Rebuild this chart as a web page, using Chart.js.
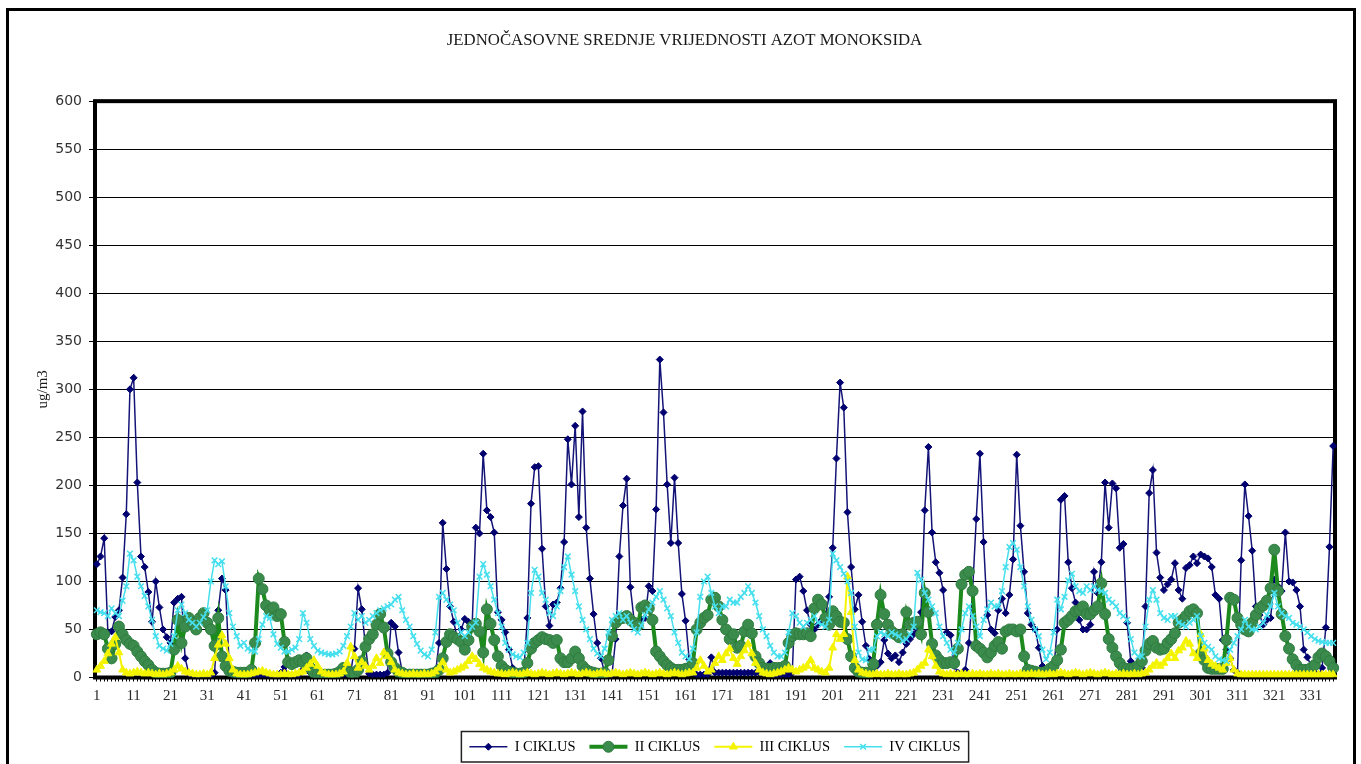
<!DOCTYPE html>
<html>
<head>
<meta charset="utf-8">
<script src="https://cdn.jsdelivr.net/npm/chart.js@4.4.1/dist/chart.umd.min.js"></script>
<style>
  html, body { margin: 0; padding: 0; background: #fff; }
  canvas { display: block; background: #fff; }
</style>
</head>
<body>
<canvas id="noChart" width="1361" height="764"></canvas>
<script>
// mjerenja po danima (1..337)
const dani = [];
for (let d = 1; d <= 337; d++) dani.push(String(d));

const ciklusI = [
  118,126,145,47,48,63,70,104,170,300,
  312,203,126,115,89,58,100,73,50,42,
  36,78,82,84,20,4,3,2,2,3,
  2,2,5,70,103,91,10,2,2,2,
  2,2,2,2,2,2,2,2,2,2,
  5,11,3,3,2,3,8,23,5,3,
  3,3,3,3,3,3,3,3,3,5,
  30,93,71,32,4,3,3,3,3,5,
  57,53,26,6,3,3,3,3,3,3,
  3,3,3,36,161,113,74,58,40,50,
  61,58,55,156,150,233,174,167,151,68,
  60,47,29,10,5,3,3,62,181,219,
  220,134,74,54,76,78,93,141,248,201,
  262,167,277,156,103,66,36,20,5,3,
  3,40,126,179,207,94,60,55,60,62,
  95,90,175,331,276,201,140,208,140,87,
  59,19,5,3,3,3,3,21,5,5,
  5,5,5,5,5,5,5,5,5,5,
  5,5,5,15,3,3,3,3,3,5,
  102,105,90,70,55,50,55,60,65,84,
  135,228,307,281,172,115,71,86,58,33,
  19,10,12,16,39,25,20,23,16,26,
  35,40,45,50,68,174,240,151,120,109,
  91,47,44,12,5,3,8,36,90,165,
  233,141,65,50,46,70,82,67,86,123,
  232,158,110,67,55,50,31,12,5,3,
  5,50,185,189,120,93,78,60,50,50,
  55,110,88,120,203,156,202,197,135,139,
  57,17,5,3,10,74,192,216,130,104,
  91,97,102,119,91,82,114,117,126,119,
  128,126,124,115,86,82,39,29,20,8,
  5,122,201,168,132,74,65,55,60,62,
  102,95,90,151,100,99,91,74,29,21,
  12,5,3,10,52,136,241
];

const ciklusII = [
  45,47,45,30,20,35,53,45,39,35,
  33,27,22,17,13,8,5,4,4,4,
  5,29,60,36,53,62,57,50,62,67,
  57,50,33,62,22,12,7,6,5,5,
  5,5,8,36,103,92,75,70,73,64,
  66,37,16,14,16,18,16,20,10,5,
  4,3,3,3,3,4,6,10,8,5,
  4,8,17,32,40,45,55,66,52,25,
  16,10,6,5,3,3,3,3,3,3,
  3,4,5,8,20,37,45,42,40,37,
  29,39,53,56,48,26,71,56,39,22,
  12,8,6,5,4,4,5,15,30,36,
  39,42,40,39,36,39,20,16,16,20,
  27,20,12,8,6,5,4,4,5,18,
  43,57,61,62,64,60,57,54,73,75,
  72,60,27,22,17,13,10,8,8,8,
  9,10,15,50,57,62,65,81,83,74,
  60,50,40,45,31,33,48,55,46,22,
  15,10,9,9,10,10,10,12,36,43,
  46,45,45,46,43,72,81,76,62,55,
  69,64,58,57,40,22,10,6,5,5,
  5,14,55,86,66,55,48,45,42,45,
  68,55,57,58,45,88,68,35,23,18,
  15,15,16,15,30,97,107,110,90,33,
  30,26,21,26,33,37,30,48,50,50,
  48,50,22,8,7,6,5,5,6,9,
  12,18,29,57,60,64,69,70,74,66,
  66,70,74,98,66,40,31,22,15,10,
  9,9,10,12,17,28,35,38,31,29,
  30,36,40,46,57,60,64,69,71,67,
  25,18,10,9,9,9,9,39,83,81,
  62,55,50,48,57,65,72,75,80,93,
  133,90,66,43,30,19,13,8,8,8,
  10,13,21,25,22,17,10
];

const ciklusIII = [
  8,12,17,25,35,42,26,8,5,4,
  5,6,5,4,5,4,3,4,3,4,
  5,8,12,9,6,5,4,3,3,4,
  3,5,20,34,44,35,20,8,4,3,
  3,3,4,5,6,7,5,4,3,3,
  3,4,3,3,4,5,6,10,14,18,
  12,6,4,3,3,3,4,6,15,32,
  22,10,16,12,8,12,20,15,26,22,
  16,8,5,4,3,3,4,3,3,4,
  3,4,6,10,16,8,5,6,8,10,
  12,17,22,19,14,10,8,6,5,4,
  4,3,4,5,4,3,4,5,4,3,
  4,5,4,3,4,5,4,3,4,5,
  4,3,4,5,4,3,4,5,4,3,
  4,5,4,3,4,5,4,3,4,5,
  4,3,4,5,4,3,4,5,4,3,
  4,5,5,10,18,12,6,8,15,22,
  18,25,30,20,14,22,28,35,25,15,
  8,5,4,3,4,5,6,8,10,8,
  6,8,10,12,18,10,8,6,5,10,
  31,45,40,45,105,68,18,8,5,4,
  3,3,4,3,3,4,3,3,4,3,
  3,4,5,8,12,15,29,22,12,6,
  4,3,4,3,3,4,3,3,4,3,
  4,3,3,4,3,4,3,3,4,3,
  3,4,3,3,4,3,4,3,3,4,
  3,4,5,4,3,4,5,4,3,4,
  5,4,3,4,5,4,3,4,3,4,
  3,3,4,3,4,5,8,12,15,12,
  15,20,25,20,28,31,38,35,25,20,
  45,30,18,14,12,10,8,15,20,8,
  4,3,3,3,3,3,3,3,3,3,
  3,3,3,3,3,3,3,3,3,3,
  3,3,3,3,3,3,3
];

const ciklusIV = [
  70,68,67,64,72,67,64,80,95,129,
  122,105,95,85,74,60,43,33,30,28,
  35,43,70,76,67,60,57,53,57,63,
  70,100,122,118,121,95,67,53,43,33,
  36,30,28,27,40,55,64,62,45,35,
  31,27,27,29,31,40,67,57,40,33,
  28,26,25,24,24,25,27,33,43,53,
  67,60,64,57,60,64,67,70,72,74,
  76,81,84,70,60,53,43,35,28,24,
  22,29,47,84,88,81,76,70,57,47,
  43,47,53,57,105,118,107,95,81,67,
  53,36,29,24,22,21,26,36,88,112,
  105,88,81,67,64,74,90,115,126,107,
  90,74,60,50,40,30,25,22,30,47,
  60,64,67,60,64,57,50,47,54,65,
  71,78,84,90,81,72,64,47,36,26,
  22,19,30,47,84,100,105,88,74,67,
  74,74,81,78,78,84,88,95,88,78,
  64,50,43,33,26,22,22,26,47,67,
  64,57,53,57,60,64,57,55,53,60,
  129,122,115,108,100,88,53,26,19,18,
  29,29,43,47,45,43,47,45,43,38,
  40,45,53,109,102,88,81,74,67,53,
  43,36,29,26,36,50,67,74,64,53,
  43,60,71,78,74,74,90,115,136,140,
  133,115,95,74,60,50,43,29,19,26,
  47,81,71,84,101,108,95,90,88,95,
  91,95,91,90,88,81,78,74,67,64,
  60,40,26,22,22,53,81,91,81,67,
  62,60,64,64,57,55,53,57,60,64,
  43,36,32,29,22,19,18,17,29,36,
  43,50,60,53,50,50,53,57,65,74,
  88,74,67,64,62,57,55,53,50,47,
  43,40,38,37,36,36,36
];

const naslov = 'JEDNOČASOVNE SREDNJE VRIJEDNOSTI AZOT MONOKSIDA';
const jedinica = 'ug/m3';

// okviri i legenda s linijom + markerom
const okvir = {
    id: 'okvir',
    beforeDraw(chart) {
        const ctx = chart.ctx;
        ctx.save();
        ctx.strokeStyle = '#000';
        ctx.lineWidth = 3;
        ctx.strokeRect(7.5, 9.5, 1347, 820);
        ctx.restore();
    },
    beforeDatasetsDraw(chart) {
        const a = chart.chartArea;
        const ctx = chart.ctx;
        ctx.save();
        ctx.strokeStyle = '#000';
        ctx.lineWidth = 4;
        ctx.strokeRect(a.left, a.top, a.right - a.left, a.bottom - a.top);
        ctx.restore();
    },
    afterDraw(chart) {
        const ctx = chart.ctx;
        const boxes = chart.legend.legendHitBoxes;
        if (!boxes || !boxes.length) return;
        ctx.save();
        let minX = Infinity, maxX = -Infinity, top = boxes[0].top, h = boxes[0].height;
        boxes.forEach((hb, i) => {
            const ds = chart.data.datasets[i];
            const y = hb.top + hb.height / 2;
            const x0 = hb.left, x1 = hb.left + 38;
            ctx.strokeStyle = ds.borderColor;
            ctx.lineWidth = ds.borderWidth;
            ctx.beginPath();
            ctx.moveTo(x0, y);
            ctx.lineTo(x1, y);
            ctx.stroke();
            ctx.fillStyle = ds.pointBackgroundColor;
            ctx.strokeStyle = ds.pointBorderColor;
            ctx.lineWidth = ds.pointBorderWidth;
            Chart.helpers.drawPoint(ctx, {
                pointStyle: ds.pointStyle,
                radius: ds.pointRadius,
                rotation: 0,
                borderWidth: ds.pointBorderWidth
            }, (x0 + x1) / 2, y);
            minX = Math.min(minX, hb.left);
            maxX = Math.max(maxX, hb.left + hb.width);
        });
        ctx.strokeStyle = '#222';
        ctx.lineWidth = 1.5;
        ctx.strokeRect(minX - 8, top - 8, maxX - minX + 16, h + 16);
        ctx.restore();
    }
};

new Chart(document.getElementById('noChart'), {
    type: 'line',
    data: {
        labels: dani,
        datasets: [{
            label: 'I CIKLUS',
            data: ciklusI,
            borderColor: '#141478',
            borderWidth: 1.5,
            pointStyle: 'rectRot',
            pointRadius: 3.5,
            pointBackgroundColor: '#000070',
            pointBorderColor: '#000070',
            pointBorderWidth: 1,
            tension: 0,
            order: 3
        }, {
            label: 'II CIKLUS',
            data: ciklusII,
            borderColor: '#1c8a1c',
            borderWidth: 4,
            pointStyle: 'circle',
            pointRadius: 5.5,
            pointBackgroundColor: '#3b8b4d',
            pointBorderColor: '#2f7d40',
            pointBorderWidth: 1,
            tension: 0,
            order: 2
        }, {
            label: 'III CIKLUS',
            data: ciklusIII,
            borderColor: '#f4f400',
            borderWidth: 2,
            pointStyle: 'triangle',
            pointRadius: 4.5,
            pointBackgroundColor: '#f4f400',
            pointBorderColor: '#f4f400',
            pointBorderWidth: 1,
            tension: 0,
            order: 1
        }, {
            label: 'IV CIKLUS',
            data: ciklusIV,
            borderColor: '#45dfee',
            borderWidth: 1.5,
            pointStyle: 'crossRot',
            pointRadius: 4,
            pointBackgroundColor: '#45dfee',
            pointBorderColor: '#45dfee',
            pointBorderWidth: 1.5,
            tension: 0,
            order: 0
        }]
    },
    options: {
        responsive: false,
        animation: false,
        devicePixelRatio: 1,
        layout: { padding: { left: 34, right: 26, top: 0, bottom: 0 } },
        plugins: {
            title: {
                display: true,
                text: naslov,
                color: '#1a1a1a',
                font: { family: 'Liberation Serif', size: 16.8, weight: 'normal' },
                padding: { top: 31, bottom: 50 }
            },
            legend: {
                position: 'bottom',
                fullSize: false,
                labels: {
                    boxWidth: 38,
                    boxHeight: 10,
                    padding: 14,
                    color: '#1a1a1a',
                    font: { family: 'Liberation Serif', size: 14.5 },
                    generateLabels: chart => chart.data.datasets.map((d, i) => ({
                        text: d.label,
                        fillStyle: 'rgba(0,0,0,0)',
                        strokeStyle: 'rgba(0,0,0,0)',
                        lineWidth: 0,
                        hidden: false,
                        datasetIndex: i
                    }))
                }
            },
            tooltip: { enabled: false }
        },
        scales: {
            x: {
                offset: true,
                border: { display: false },
                grid: { drawOnChartArea: false, color: '#000', tickLength: 4, lineWidth: 1 },
                ticks: {
                    autoSkip: false,
                    maxRotation: 0,
                    minRotation: 0,
                    padding: 6,
                    color: '#2a2a2a',
                    font: { family: 'Liberation Serif', size: 15 },
                    callback: (v, i) => (i % 10 === 0 ? dani[i] : '')
                },
                afterFit: s => { s.height = 48; }
            },
            y: {
                min: 0,
                max: 600,
                border: { display: false },
                grid: { color: '#000', lineWidth: 1, tickLength: 6 },
                ticks: {
                    stepSize: 50,
                    padding: 7,
                    color: '#333',
                    font: { family: 'DejaVu Sans', size: 14 }
                },
                title: {
                    display: true,
                    text: jedinica,
                    color: '#1a1a1a',
                    font: { family: 'Liberation Serif', size: 15 },
                    padding: { top: 0, bottom: 0 }
                },
                afterFit: s => { s.width = 61; }
            }
        }
    },
    plugins: [okvir]
});
</script>
</body>
</html>
